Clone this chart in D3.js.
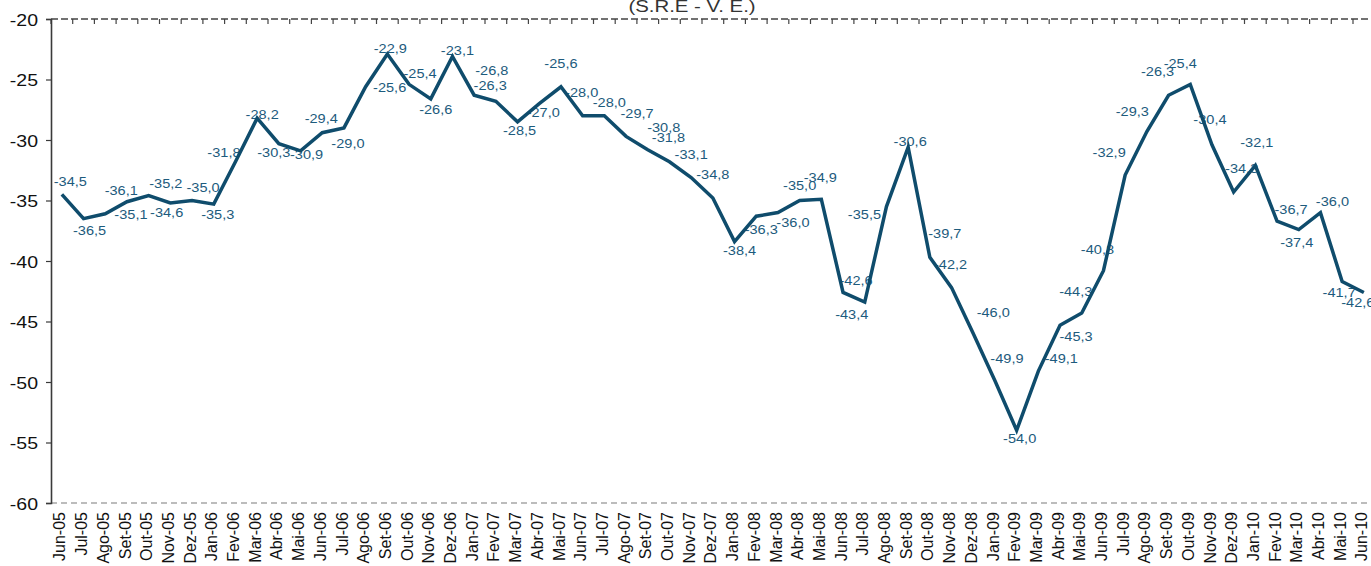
<!DOCTYPE html>
<html>
<head>
<meta charset="utf-8">
<script src="https://cdn.jsdelivr.net/npm/d3@7"></script>
<style>
  body { margin: 0; background: #fff; }
  svg { display: block; font-family: "Liberation Sans", Arial, sans-serif; }
</style>
</head>
<body>
<div id="graph"></div>
<script>
// months shown on the x axis
var months = [
  "Jun-05","Jul-05","Ago-05","Set-05","Out-05","Nov-05","Dez-05",
  "Jan-06","Fev-06","Mar-06","Abr-06","Mai-06","Jun-06","Jul-06","Ago-06","Set-06","Out-06","Nov-06","Dez-06",
  "Jan-07","Fev-07","Mar-07","Abr-07","Mai-07","Jun-07","Jul-07","Ago-07","Set-07","Out-07","Nov-07","Dez-07",
  "Jan-08","Fev-08","Mar-08","Abr-08","Mai-08","Jun-08","Jul-08","Ago-08","Set-08","Out-08","Nov-08","Dez-08",
  "Jan-09","Fev-09","Mar-09","Abr-09","Mai-09","Jun-09","Jul-09","Ago-09","Set-09","Out-09","Nov-09","Dez-09",
  "Jan-10","Fev-10","Mar-10","Abr-10","Mai-10","Jun-10"
];

// balance (S.R.E - V.E.)
var values = [
  -34.5,-36.5,-36.1,-35.1,-34.6,-35.2,-35.0,
  -35.3,-31.8,-28.2,-30.3,-30.9,-29.4,-29.0,-25.6,-22.9,-25.4,-26.6,-23.1,
  -26.3,-26.8,-28.5,-27.0,-25.6,-28.0,-28.0,-29.7,-30.8,-31.8,-33.1,-34.8,
  -38.4,-36.3,-36.0,-35.0,-34.9,-42.6,-43.4,-35.5,-30.6,-39.7,-42.2,-46.0,
  -49.9,-54.0,-49.1,-45.3,-44.3,-40.8,-32.9,-29.3,-26.3,-25.4,-30.4,-34.3,
  -32.1,-36.7,-37.4,-36.0,-41.7,-42.6
];

var yTicks = [-60,-55,-50,-45,-40,-35,-30,-25,-20];

// where each value label sits relative to its point (dx, baseline dy)
var labelNudge = [
  [8.5,-8.5],[6,16],[16,-19],[4,17],[18,21],[-4.5,-15],[11,-8.5],
  [4,15],[-11.5,-5],[5,1],[-5,13],[6,8],[-1,-10],[4,20],[24,5],[3,-1],[11,-6],[5,15],[5,-1.5],
  [16,-5],[-4,-26],[2,13],[4,13],[0,-19],[-1,-19],[5,-9],[11,-18],[16,-18],[-1,-20],[0,-19],[0,-19],
  [5,13],[5,18],[15,14],[0,-11],[-1,-17],[13,-7],[-13,17],[-22,12],[2,-1],[15,-19],[-1,-19],[20,-17],
  [12,-18],[3,13],[23,-8],[16,16],[-6,-17],[-6,-17],[-16,-18],[-14.5,-16],[-11,-19],[-10,-16],[-2,-21],[8,-19],
  [1.5,-18],[14,-7],[-2,17],[12,-7],[-3,15],[-6,15]
];

var W = 1371, H = 566;
var plotLeft = 51, plotTop = 19, plotBottom = 503;
var step = 21.7;

var svg = d3.select("#graph").append("svg")
  .attr("width", W)
  .attr("height", H);

var x = d3.scaleBand().domain(months).range([plotLeft, plotLeft + step * months.length]);
var y = d3.scaleLinear().domain([-60, -20]).range([plotBottom, plotTop]);

var fmt = function(v) { return v.toFixed(1).replace(".", ","); };

// title (partly cut at the top)
svg.append("text")
  .attr("transform", "translate(692,12) scale(1.2,1)")
  .attr("text-anchor", "middle")
  .style("font-size", "17px")
  .style("fill", "#333")
  .text("(S.R.E - V. E.)");

// bottom dashed line at -60
svg.append("line")
  .attr("x1", plotLeft).attr("x2", W)
  .attr("y1", y(-60)).attr("y2", y(-60))
  .attr("stroke", "#7a7a7a")
  .attr("stroke-width", 1.2)
  .attr("stroke-dasharray", "6,4");

// top dashed border with tick marks
svg.append("line")
  .attr("x1", plotLeft).attr("x2", W)
  .attr("y1", y(-20)).attr("y2", y(-20))
  .attr("stroke", "#444")
  .attr("stroke-width", 1.3)
  .attr("stroke-dasharray", "7,3");

var topAxis = svg.append("g")
  .attr("transform", "translate(" + (-x.bandwidth() / 2) + "," + y(-20) + ")")
  .call(d3.axisBottom(x).tickSize(5).tickFormat(""));
topAxis.select(".domain").remove();
topAxis.selectAll("line").attr("stroke", "#444").attr("stroke-width", 1.2);

// left axis
var yAxis = svg.append("g")
  .attr("transform", "translate(" + plotLeft + ",0)")
  .call(d3.axisLeft(y).tickValues(yTicks).tickSize(5).tickFormat(function(d) { return String(d); }));
yAxis.select(".domain").attr("stroke", "#3a3a3a").attr("stroke-width", 1.6);
yAxis.selectAll("line").attr("stroke", "#3a3a3a").attr("stroke-width", 1.2);
yAxis.selectAll("text")
  .attr("x", null).attr("dy", null)
  .attr("transform", "translate(-13,6) scale(1.22,1)")
  .attr("text-anchor", "end")
  .style("font-size", "16px")
  .style("font-family", "'Liberation Sans', Arial, sans-serif")
  .style("fill", "#111");

// x category labels, rotated
svg.append("g")
  .selectAll("text")
  .data(months)
  .enter().append("text")
  .attr("transform", function(d) { return "translate(" + (x(d) + x.bandwidth() / 2 - 2) + ",512) rotate(-90)"; })
  .attr("text-anchor", "end")
  .attr("dy", "0.35em")
  .style("font-size", "16px")
  .style("fill", "#111")
  .text(function(d) { return d; });

var pts = values.map(function(v, i) { return { m: months[i], v: v, i: i }; });

// value labels (drawn under the line)
svg.append("g")
  .selectAll("text")
  .data(pts)
  .enter().append("text")
  .attr("transform", function(d) {
    var n = labelNudge[d.i];
    return "translate(" + (x(d.m) + x.bandwidth() / 2 + n[0]) + "," + (y(d.v) + n[1]) + ") scale(1.12,1)";
  })
  .attr("text-anchor", "middle")
  .style("font-size", "13px")
  .style("fill", "#1d5b7d")
  .text(function(d) { return fmt(d.v); });

var line = d3.line()
  .x(function(d) { return x(d.m) + x.bandwidth() / 2; })
  .y(function(d) { return y(d.v); });

svg.append("path")
  .datum(pts)
  .attr("d", line)
  .attr("fill", "none")
  .attr("stroke", "#0f4c6c")
  .attr("stroke-width", 3.5)
  .attr("stroke-linejoin", "miter");
</script>
</body>
</html>
